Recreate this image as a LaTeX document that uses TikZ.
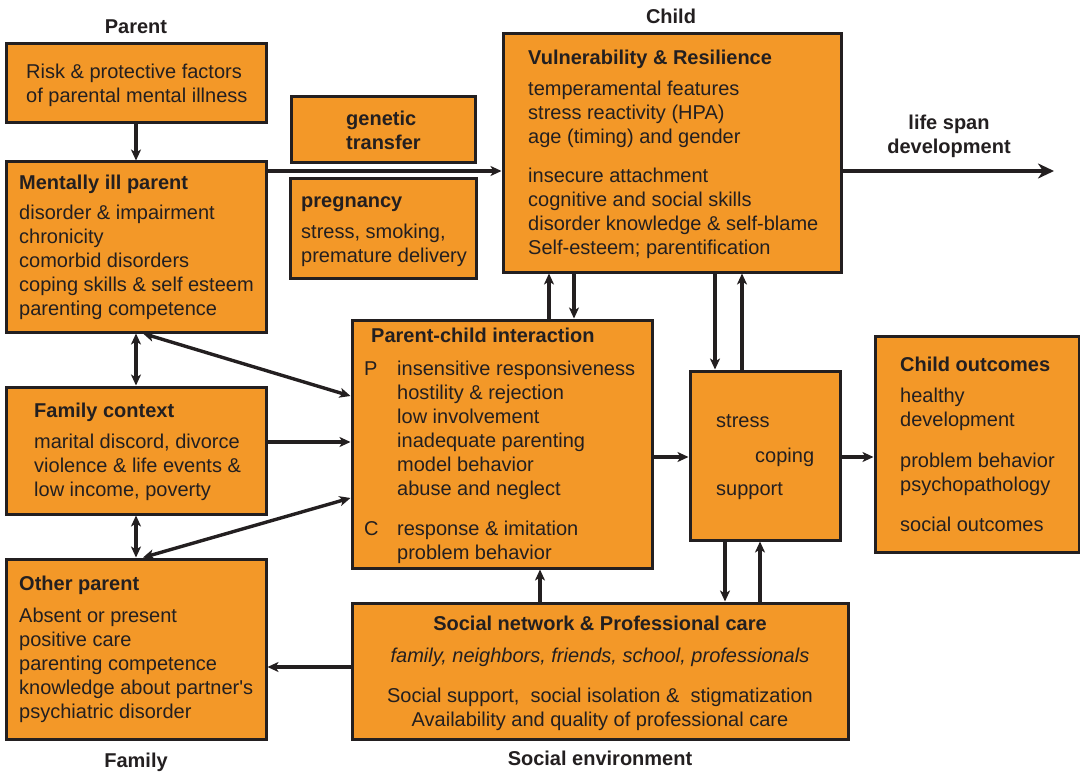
\documentclass[tikz,border=0pt]{standalone}
\usepackage{fontspec}
\setmainfont[Ligatures=TeXOff]{Liberation Sans}
\usetikzlibrary{arrows.meta,fit}
\definecolor{boxfill}{RGB}{243,152,40}
\definecolor{ink}{RGB}{35,31,32}
\newcommand{\topstrt}{\rule{0pt}{15pt}}
\begin{document}
\begin{tikzpicture}[x=1pt,y=-1pt,
  box/.style={draw=ink,fill=boxfill,line width=3pt,inner sep=0pt},
  txt/.style={anchor=north west,inner sep=0pt,align=left,text=ink,
    font=\fontsize{20}{24}\selectfont},
  ctxt/.style={txt,anchor=north,align=center},
  arr/.style={draw=ink,line width=3.4pt,-{Stealth[length=11pt,width=10pt,inset=3pt]}},
  dbl/.style={draw=ink,line width=3.4pt,{Stealth[length=11pt,width=10pt,inset=3pt]}-{Stealth[length=11pt,width=10pt,inset=3pt]}},
  bigarr/.style={draw=ink,line width=3.4pt,-{Stealth[length=16pt,width=15pt,inset=5pt]}}]
\useasboundingbox (0,0) rectangle (1080,773);

% boxes
\node[box,fit={(6,44)(266,123)}] (A) {};
\node[box,fit={(6,162)(266,332)}] (B) {};
\node[box,fit={(291,97)(475,163)}] (G) {};
\node[box,fit={(290,179)(476,278)}] (Pr) {};
\node[box,fit={(503,34)(841,272)}] (V) {};
\node[box,fit={(352,320)(652,568)}] (PCI) {};
\node[box,fit={(6,387)(266,514)}] (F) {};
\node[box,fit={(6,559)(266,739)}] (O) {};
\node[box,fit={(690,371)(840,540)}] (S) {};
\node[box,fit={(875,336)(1079,552)}] (CO) {};
\node[box,fit={(352,603)(848,739)}] (SN) {};

% section labels
\node[ctxt] (tparent) at (136,18) {\topstrt\textbf{Parent}};
\node[ctxt] (tchild) at (671,8) {\topstrt\textbf{Child}};
\node[ctxt] (tfamily) at (136,752) {\topstrt\textbf{Family}};
\node[ctxt] (tsocial) at (600,750) {\topstrt\textbf{Social environment}};
\node[ctxt] (lifespan) at (949,114) {\topstrt\textbf{life span}\\\textbf{development}};

% box contents
\node[txt] (tA) at (26,63) {\topstrt Risk \& protective factors\\of parental mental illness};
\node[txt] (tB) at (19,174) {\topstrt\textbf{Mentally ill parent}\\[6pt]disorder \& impairment\\chronicity\\comorbid disorders\\coping skills \& self esteem\\parenting competence};
\node[txt] (tG) at (346,110) {\topstrt\textbf{genetic}\\\textbf{transfer}};
\node[txt] (tPr) at (301,192) {\topstrt\textbf{pregnancy}\\[7pt]stress, smoking,\\premature delivery};
\node[txt] (tV) at (528,49) {\topstrt\textbf{Vulnerability \& Resilience}\\[7pt]temperamental features\\stress reactivity (HPA)\\age (timing) and gender\\[15pt]insecure attachment\\cognitive and social skills\\disorder knowledge \& self-blame\\Self-esteem; parentification};
\node[txt] (tPCI) at (371,327) {\topstrt\textbf{Parent-child interaction}};
\node[txt] (tP) at (364,360) {\topstrt P};
\node[txt] (tC) at (364,520) {\topstrt C};
\node[txt] (tPCIl) at (397,360) {\topstrt insensitive responsiveness\\hostility \& rejection\\low involvement\\inadequate parenting\\model behavior\\abuse and neglect\\[16pt]response \& imitation\\problem behavior};
\node[txt] (tF) at (34,402) {\topstrt\textbf{Family context}\\[7pt]marital discord, divorce\\violence \& life events \&\\low income, poverty};
\node[txt] (tO) at (19,575) {\topstrt\textbf{Other parent}\\[8pt]Absent or present\\positive care\\parenting competence\\knowledge about partner's\\psychiatric disorder};
\node[txt] (tS1) at (716,412) {\topstrt stress};
\node[txt] (tS2) at (755,447) {\topstrt coping};
\node[txt] (tS3) at (716,480) {\topstrt support};
\node[txt] (tCO) at (900,356) {\topstrt\textbf{Child outcomes}\\[7pt]healthy\\development\\[17pt]problem behavior\\psychopathology\\[16pt]social outcomes};
\node[ctxt] (tSN) at (600,615) {\topstrt\textbf{Social network \& Professional care}\\[8pt]\textit{family, neighbors, friends, school, professionals}\\[16pt]Social support,\ \ social isolation \&\ \ stigmatization\\Availability and quality of professional care};

% connectors
\draw[arr] (A.south) -- (B.north);
\draw[arr] (B.east |- 0,171) -- (V.west |- 0,171);
\coordinate (lifeend) at (1054,171);
\draw[bigarr] (V.east |- 0,171) -- (lifeend);
\draw[arr] (PCI.north -| 549,0) -- (V.south -| 549,0);
\draw[arr] (V.south -| 574,0) -- (PCI.north -| 574,0);
\draw[arr] (V.south -| 715,0) -- (S.north -| 715,0);
\draw[arr] (S.north -| 742,0) -- (V.south -| 742,0);
\draw[dbl] (B.south) -- (F.north);
\draw[dbl] (F.south) -- (O.north);
\draw[dbl] (B.south -| 143,0) -- (PCI.west |- 0,396);
\draw[dbl] (O.north -| 143,0) -- (PCI.west |- 0,498);
\draw[arr] (F.east |- 0,442) -- (PCI.west |- 0,442);
\draw[arr] (PCI.east |- 0,457) -- (S.west |- 0,457);
\draw[arr] (S.east |- 0,457) -- (CO.west |- 0,457);
\draw[arr] (S.south -| 725,0) -- (SN.north -| 725,0);
\draw[arr] (SN.north -| 760,0) -- (S.south -| 760,0);
\draw[arr] (SN.north -| 540,0) -- (PCI.south -| 540,0);
\draw[arr] (SN.west |- 0,667) -- (O.east |- 0,667);
\end{tikzpicture}
\end{document}
